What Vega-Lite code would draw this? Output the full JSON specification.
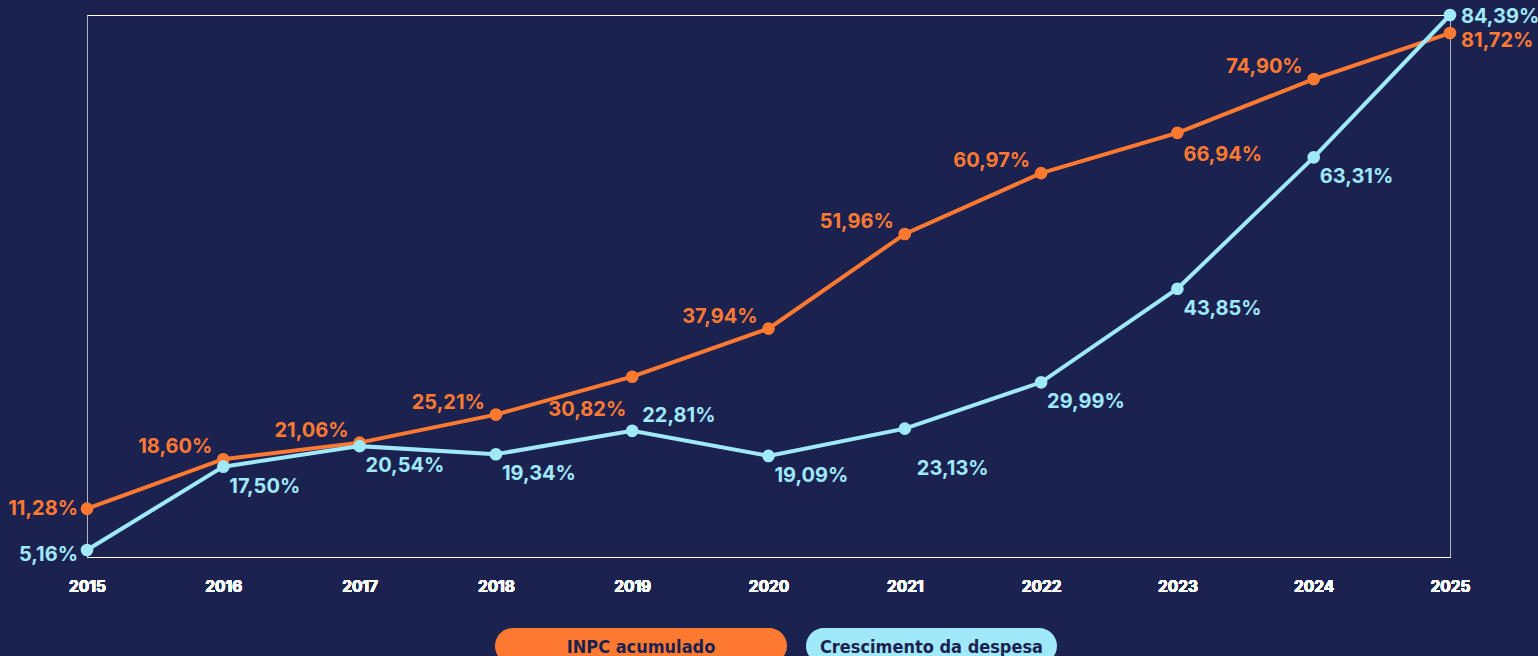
{
"$schema": "https://vega.github.io/schema/vega-lite/v6.json",
"background": "#1b2250",
"padding": {"left": 8, "top": 7, "right": 0, "bottom": 0},
"bounds": "flush",
"spacing": 71,
"config": {"view": {"stroke": null}, "font": "Inter"},
"datasets": {
"d": [
{"year": 2015, "series": "INPC acumulado", "value": 11.28},
{"year": 2016, "series": "INPC acumulado", "value": 18.60},
{"year": 2017, "series": "INPC acumulado", "value": 21.06},
{"year": 2018, "series": "INPC acumulado", "value": 25.21},
{"year": 2019, "series": "INPC acumulado", "value": 30.82},
{"year": 2020, "series": "INPC acumulado", "value": 37.94},
{"year": 2021, "series": "INPC acumulado", "value": 51.96},
{"year": 2022, "series": "INPC acumulado", "value": 60.97},
{"year": 2023, "series": "INPC acumulado", "value": 66.94},
{"year": 2024, "series": "INPC acumulado", "value": 74.90},
{"year": 2025, "series": "INPC acumulado", "value": 81.72},
{"year": 2015, "series": "Crescimento da despesa", "value": 5.16},
{"year": 2016, "series": "Crescimento da despesa", "value": 17.50},
{"year": 2017, "series": "Crescimento da despesa", "value": 20.54},
{"year": 2018, "series": "Crescimento da despesa", "value": 19.34},
{"year": 2019, "series": "Crescimento da despesa", "value": 22.81},
{"year": 2020, "series": "Crescimento da despesa", "value": 19.09},
{"year": 2021, "series": "Crescimento da despesa", "value": 23.13},
{"year": 2022, "series": "Crescimento da despesa", "value": 29.99},
{"year": 2023, "series": "Crescimento da despesa", "value": 43.85},
{"year": 2024, "series": "Crescimento da despesa", "value": 63.31},
{"year": 2025, "series": "Crescimento da despesa", "value": 84.39}
]
},
"vconcat": [
{
"width": 1363,
"height": 542,
"data": {"name": "d"},
"transform": [{"calculate": "replace(format(datum.value, '.2f'), '.', ',') + '%'", "as": "label"}],
"encoding": {
"x": {"field": "year", "type": "ordinal", "scale": {"type": "point", "padding": 0},
 "axis": {"title": null, "orient": "bottom", "labelColor": "#ffffff", "labelFont": "Inter", "labelFontSize": 15.5, "labelFontWeight": "bold", "labelPadding": 22, "labelAngle": 0, "ticks": false, "domain": true, "domainColor": "#ffffff", "domainWidth": 1, "grid": true, "gridWidth": 1,
  "gridColor": {"condition": {"test": "datum.value == 2015 || datum.value == 2025", "value": "#b4b6c4"}, "value": "rgba(0,0,0,0)"}}},
"y": {"field": "value", "type": "quantitative", "scale": {"domain": [4.12, 84.39], "nice": false, "zero": false}, "axis": null},
"color": {"field": "series", "type": "nominal", "scale": {"domain": ["INPC acumulado", "Crescimento da despesa"], "range": ["#ff7a30", "#9fe9fb"]}, "legend": null}
},
"layer": [
{"transform": [{"filter": "datum.series == 'INPC acumulado'"}], "mark": {"type": "line", "strokeWidth": 4},
 "encoding": {"x": {"field": "year", "type": "ordinal", "axis": {"orient": "top", "title": null, "labels": false, "ticks": false, "domain": true, "domainColor": "#ffffff", "domainWidth": 1, "grid": false}}}},
{"transform": [{"filter": "datum.series == 'INPC acumulado'"}], "mark": {"type": "point", "filled": true, "size": 160, "opacity": 1}},
{"transform": [{"filter": "datum.series == 'Crescimento da despesa'"}], "mark": {"type": "line", "strokeWidth": 4}},
{"transform": [{"filter": "datum.series == 'Crescimento da despesa'"}], "mark": {"type": "point", "filled": true, "size": 160, "opacity": 1}},
{"transform": [{"filter": "datum.series == 'INPC acumulado' && datum.year == 2015"}], "mark": {"type": "text", "font": "Inter", "fontSize": 20, "fontWeight": "bold", "align": "right", "baseline": "middle", "dx": -9, "dy": 0}, "encoding": {"text": {"field": "label"}}},
{"transform": [{"filter": "datum.series == 'INPC acumulado' && indexof([2016, 2017, 2018, 2020, 2021, 2022, 2024], datum.year) >= 0"}], "mark": {"type": "text", "font": "Inter", "fontSize": 20, "fontWeight": "bold", "align": "right", "baseline": "middle", "dx": -11, "dy": -12}, "encoding": {"text": {"field": "label"}}},
{"transform": [{"filter": "datum.series == 'INPC acumulado' && datum.year == 2019"}], "mark": {"type": "text", "font": "Inter", "fontSize": 20, "fontWeight": "bold", "align": "right", "baseline": "middle", "dx": -6, "dy": 33}, "encoding": {"text": {"field": "label"}}},
{"transform": [{"filter": "datum.series == 'INPC acumulado' && datum.year == 2023"}], "mark": {"type": "text", "font": "Inter", "fontSize": 20, "fontWeight": "bold", "align": "left", "baseline": "middle", "dx": 6, "dy": 22}, "encoding": {"text": {"field": "label"}}},
{"transform": [{"filter": "datum.series == 'INPC acumulado' && datum.year == 2025"}], "mark": {"type": "text", "font": "Inter", "fontSize": 20, "fontWeight": "bold", "align": "left", "baseline": "middle", "dx": 11, "dy": 8}, "encoding": {"text": {"field": "label"}}},
{"transform": [{"filter": "datum.series == 'Crescimento da despesa' && datum.year == 2015"}], "mark": {"type": "text", "font": "Inter", "fontSize": 20, "fontWeight": "bold", "align": "right", "baseline": "middle", "dx": -9, "dy": 5}, "encoding": {"text": {"field": "label"}}},
{"transform": [{"filter": "datum.series == 'Crescimento da despesa' && indexof([2016, 2017, 2018, 2020, 2022, 2023, 2024], datum.year) >= 0"}], "mark": {"type": "text", "font": "Inter", "fontSize": 20, "fontWeight": "bold", "align": "left", "baseline": "middle", "dx": 6, "dy": 20}, "encoding": {"text": {"field": "label"}}},
{"transform": [{"filter": "datum.series == 'Crescimento da despesa' && datum.year == 2019"}], "mark": {"type": "text", "font": "Inter", "fontSize": 20, "fontWeight": "bold", "align": "left", "baseline": "middle", "dx": 10, "dy": -15}, "encoding": {"text": {"field": "label"}}},
{"transform": [{"filter": "datum.series == 'Crescimento da despesa' && datum.year == 2021"}], "mark": {"type": "text", "font": "Inter", "fontSize": 20, "fontWeight": "bold", "align": "left", "baseline": "middle", "dx": 12, "dy": 40}, "encoding": {"text": {"field": "label"}}},
{"transform": [{"filter": "datum.series == 'Crescimento da despesa' && datum.year == 2025"}], "mark": {"type": "text", "font": "Inter", "fontSize": 20, "fontWeight": "bold", "align": "left", "baseline": "middle", "dx": 11, "dy": 2}, "encoding": {"text": {"field": "label"}}}
]
},
{
"width": 1162,
"height": 36,
"data": {"name": "d"},
"transform": [{"aggregate": [{"op": "count", "as": "n"}], "groupby": ["series"]}],
"encoding": {
"x": {"field": "series", "type": "nominal", "scale": {"type": "band", "domain": ["INPC acumulado", "Crescimento da despesa"], "paddingInner": 0, "paddingOuter": 1, "align": 0.7035}, "axis": null},
"color": {"field": "series", "type": "nominal", "scale": {"domain": ["INPC acumulado", "Crescimento da despesa"], "range": ["#ff7a30", "#9fe9fb"]}, "legend": null}
},
"layer": [
{"transform": [{"filter": "datum.series == 'INPC acumulado'"}], "mark": {"type": "bar", "cornerRadius": 18, "width": 292}},
{"transform": [{"filter": "datum.series == 'Crescimento da despesa'"}], "mark": {"type": "bar", "cornerRadius": 18, "width": 251}},
{"mark": {"type": "text", "font": "DejaVu Sans Condensed, Roboto, sans-serif", "fontWeight": "bold", "fontSize": 18, "fill": "#1b2250", "baseline": "middle", "dy": 2}, "encoding": {"text": {"field": "series"}}}
]
}
]
}
